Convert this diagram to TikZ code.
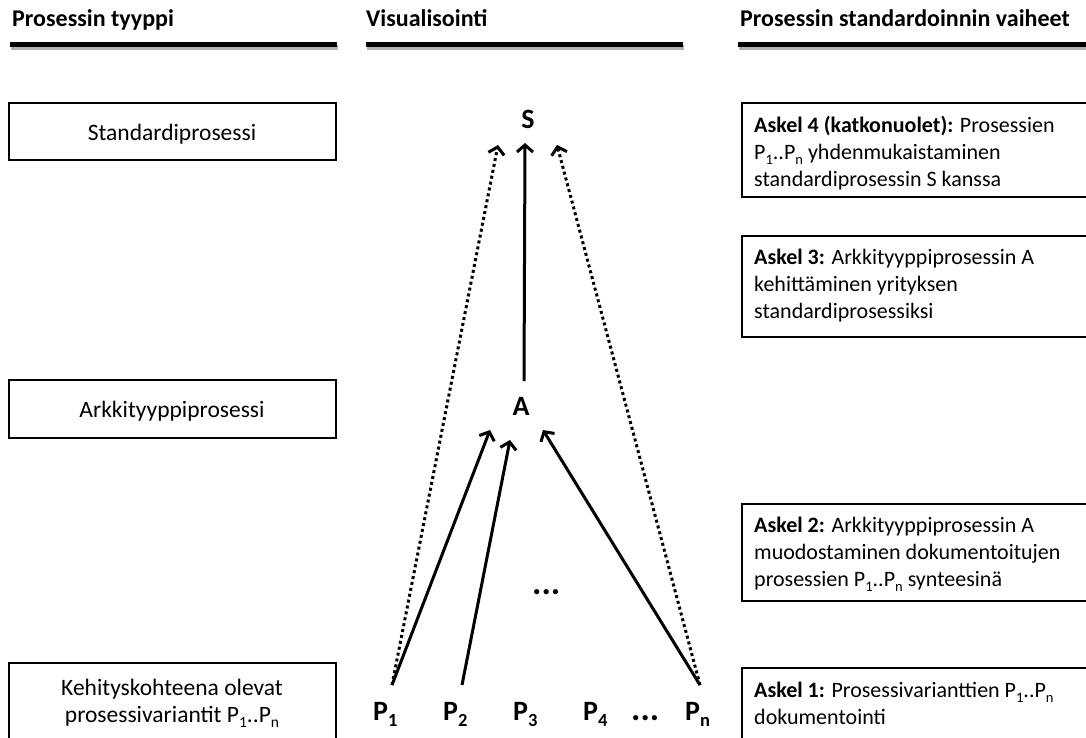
\documentclass[tikz,border=0pt]{standalone}
\usepackage{fontspec}
\setmainfont{Carlito}
\usetikzlibrary{arrows.meta}
% index written below the baseline, at two thirds of the running size
\newcommand\idx[1]{\raisebox{-0.24em}{\scalebox{0.66}{#1}}}
\begin{document}
\begin{tikzpicture}[x=1pt,y=-1pt,
  frame/.style={draw, line width=2.6pt},
  body/.style={font=\fontsize{22}{27}\selectfont, inner sep=0pt},
  typelabel/.style={font=\fontsize{23.5}{26.5}\selectfont, inner sep=0pt, anchor=base},
  stepnote/.style={body, align=left, anchor=base west},
  head/.style={font=\fontsize{24}{28}\selectfont\bfseries, anchor=base west, inner sep=0pt},
  rule/.style={line width=5pt},
  ruleshade/.style={line width=5pt, black!30},
  big/.style={font=\fontsize{28}{30}\selectfont\bfseries, inner sep=0pt, anchor=base west},
  dots/.style={font=\fontsize{35}{36}\selectfont\bfseries, inner sep=0pt, anchor=base west},
  flow/.style={line width=3pt, -{Straight Barb[length=7pt,width=16pt,line width=3pt]}},
  flowdot/.style={flow, dash pattern=on 3pt off 3pt}]
\useasboundingbox (0,0) rectangle (1086,737);
\clip (0,0) rectangle (1086,737);

% column headings and their rules
\node[head] (h1) at (12,26) {Prosessin tyyppi};
\node[head] (h2) at (366,26) {Visualisointi};
\node[head] (h3) at (740,26) {Prosessin standardoinnin vaiheet};
\foreach \a/\b in {10/337, 366/683, 738/1090} {
  \draw[ruleshade] (\a+1,47.5) -- (\b+1,47.5);
  \draw[rule] (\a,44.5) -- (\b,44.5);
}

% process types (left column)
\draw[frame] (9,103) rectangle (336,160);
\node[typelabel] (tS) at (172,140) {Standardiprosessi};
\draw[frame] (9,380) rectangle (336,438);
\node[typelabel] (tA) at (172,417) {Arkkityyppiprosessi};
\draw[frame] (9,663) rectangle (336,760);
% the base anchor of a multi-line node sits on its last line
\node[typelabel, align=center] (tP) at (172,722)
  {Kehityskohteena olevat\\prosessivariantit P\idx{1}..P\idx{n}};

% standardisation steps (right column)
\draw[frame] (742,103) rectangle (1100,197);
\node[stepnote] (s4) at (754,186)
  {\textbf{Askel 4 (katkonuolet):} Prosessien\\P\idx{1}..P\idx{n} yhdenmukaistaminen\\standardiprosessin S kanssa};
\draw[frame] (742,236) rectangle (1100,337);
\node[stepnote] (s3) at (754,318)
  {\textbf{Askel 3:} Arkkityyppiprosessin A\\kehittäminen yrityksen\\standardiprosessiksi};
\draw[frame] (742,504) rectangle (1100,601);
\node[stepnote] (s2) at (754,586)
  {\textbf{Askel 2:} Arkkityyppiprosessin A\\muodostaminen dokumentoitujen\\prosessien P\idx{1}..P\idx{n} synteesinä};
\draw[frame] (742,668) rectangle (1100,760);
\node[stepnote] (s1) at (754,724)
  {\textbf{Askel 1:} Prosessivarianttien P\idx{1}..P\idx{n}\\dokumentointi};

% visualisation (middle column)
\node[font=\fontsize{28}{30}\selectfont\bfseries, inner sep=0pt, anchor=base] (S) at (528,128) {S};
\node[font=\fontsize{28}{30}\selectfont\bfseries, inner sep=0pt, anchor=base] (A) at (521,415) {A};
\node[big] (P1) at (373,720) {P\idx{1}};
\node[big] (P2) at (443,720) {P\idx{2}};
\node[big] (P3) at (513,720) {P\idx{3}};
\node[big] (P4) at (583,720) {P\idx{4}};
\node[dots] (Pdots) at (631,720) {...};
\node[dots] (mid) at (532,594) {...};
\node[big] (Pn) at (685,720) {P\idx{n}};

% connector ends
\coordinate (p1foot) at (392,685);
\coordinate (p2foot) at (462,685);
\coordinate (pnfoot) at (700,685);
\coordinate (afoot) at (524,381);
\coordinate (aIn1) at (490,430);
\coordinate (aIn2) at (510,440);
\coordinate (aInN) at (543,430);
\coordinate (sInL) at (498,145);
\coordinate (sInM) at (525,143);
\coordinate (sInR) at (557,145);

\draw[flowdot] (p1foot) -- (sInL);
\draw[flowdot] (pnfoot) -- (sInR);
\draw[flow] (p1foot) -- (aIn1);
\draw[flow] (p2foot) -- (aIn2);
\draw[flow] (pnfoot) -- (aInN);
\draw[flow] (afoot) -- (sInM);
\end{tikzpicture}
\end{document}
